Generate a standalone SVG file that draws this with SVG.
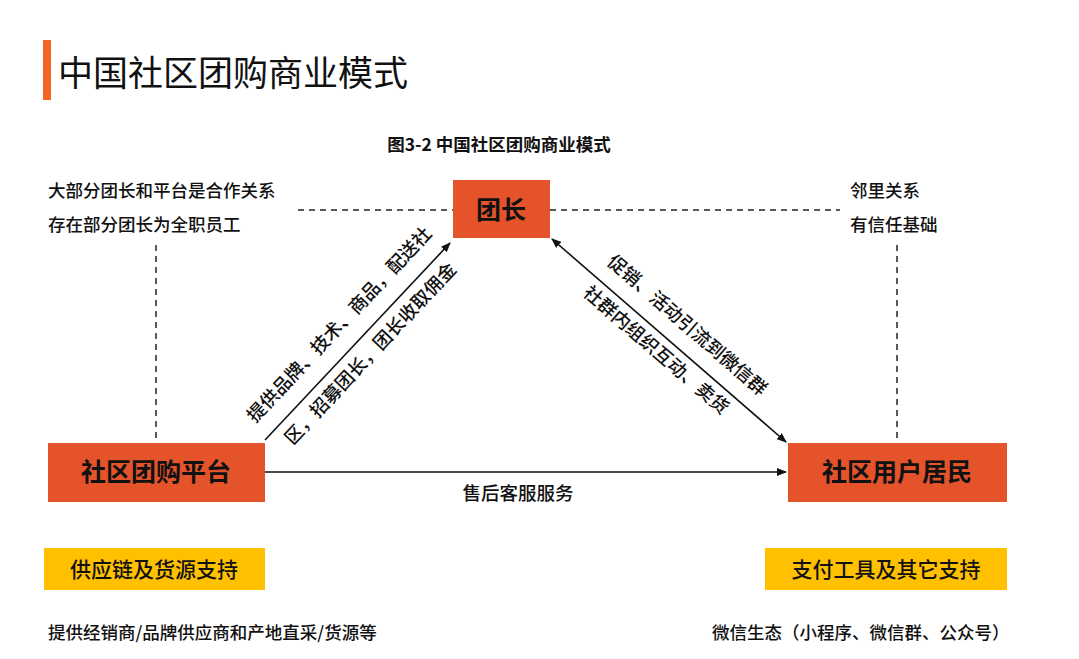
<svg xmlns="http://www.w3.org/2000/svg" width="1079" height="659" viewBox="0 0 1079 659">
<defs>
<style>
text{font-family:"Noto Sans CJK SC","Noto Sans",sans-serif;fill:#111}
.box{fill:#E4532A}
.yb{fill:#FFC000}
.node{font-weight:bold;font-size:25px;text-anchor:middle}
.t{font-size:17.5px;font-weight:500}
.d{font-size:18.5px;font-weight:500}
.dash{stroke:#222;stroke-width:1.5;stroke-dasharray:6,5;fill:none}
.arr{stroke:#111;stroke-width:1.6;fill:none}
</style>
<marker id="ah" markerWidth="10" markerHeight="8" refX="9" refY="4" orient="auto-start-reverse" markerUnits="userSpaceOnUse"><path d="M0,0 L10,4 L0,8 Z" fill="#111"/></marker>
</defs>
<rect width="1079" height="659" fill="#fff"/>
<rect x="43" y="40" width="8" height="60" fill="#F26522"/>
<text x="58" y="86" font-size="35">中国社区团购商业模式</text>
<text x="499" y="151" font-size="17.5" font-weight="bold" text-anchor="middle">图3-2 中国社区团购商业模式</text>
<text class="t" x="48" y="197">大部分团长和平台是合作关系</text>
<text class="t" x="48" y="231">存在部分团长为全职员工</text>
<text class="t" x="850" y="197">邻里关系</text>
<text class="t" x="850" y="231">有信任基础</text>
<g id="connectors">
<path class="dash" d="M298,210 H453 M550,210 H840 M156,245 V440 M897,245 V440"/>
<path class="arr" d="M265,440 L450,243" marker-end="url(#ah)"/>
<path class="arr" d="M552,239 L786,442" marker-start="url(#ah)" marker-end="url(#ah)"/>
<path class="arr" d="M265,472 H786" marker-end="url(#ah)"/>
<text class="d" x="518" y="500" text-anchor="middle">售后客服服务</text>
<text class="d" text-anchor="middle" transform="translate(344,329) rotate(-46.8)">提供品牌、技术、商品，配送社</text>
<text class="d" text-anchor="middle" transform="translate(375,358) rotate(-46.8)">区，招募团长，团长收取佣金</text>
<text class="d" text-anchor="middle" transform="translate(683,330) rotate(40.8)">促销、活动引流到微信群</text>
<text class="d" text-anchor="middle" transform="translate(652,355) rotate(40.8)">社群内组织互动、卖货</text>
</g>
<g id="n-tuanzhang"><rect class="box" x="453" y="180" width="97" height="58"/><text class="node" x="501" y="219" font-size="26">团长</text></g>
<g id="n-platform"><rect class="box" x="48" y="443" width="217" height="59"/><text class="node" x="156" y="481">社区团购平台</text></g>
<g id="n-users"><rect class="box" x="788" y="443" width="219" height="59"/><text class="node" x="897" y="481">社区用户居民</text></g>
<g id="n-supply"><rect class="yb" x="44" y="548" width="221" height="42"/><text x="154" y="577" font-size="21" font-weight="500" text-anchor="middle">供应链及货源支持</text></g>
<g id="n-pay"><rect class="yb" x="765" y="548" width="242" height="42"/><text x="886" y="577" font-size="21" font-weight="500" text-anchor="middle">支付工具及其它支持</text></g>
<text class="t" x="48" y="639">提供经销商/品牌供应商和产地直采/货源等</text>
<text class="t" x="712" y="639">微信生态（小程序、微信群、公众号）</text>
</svg>
